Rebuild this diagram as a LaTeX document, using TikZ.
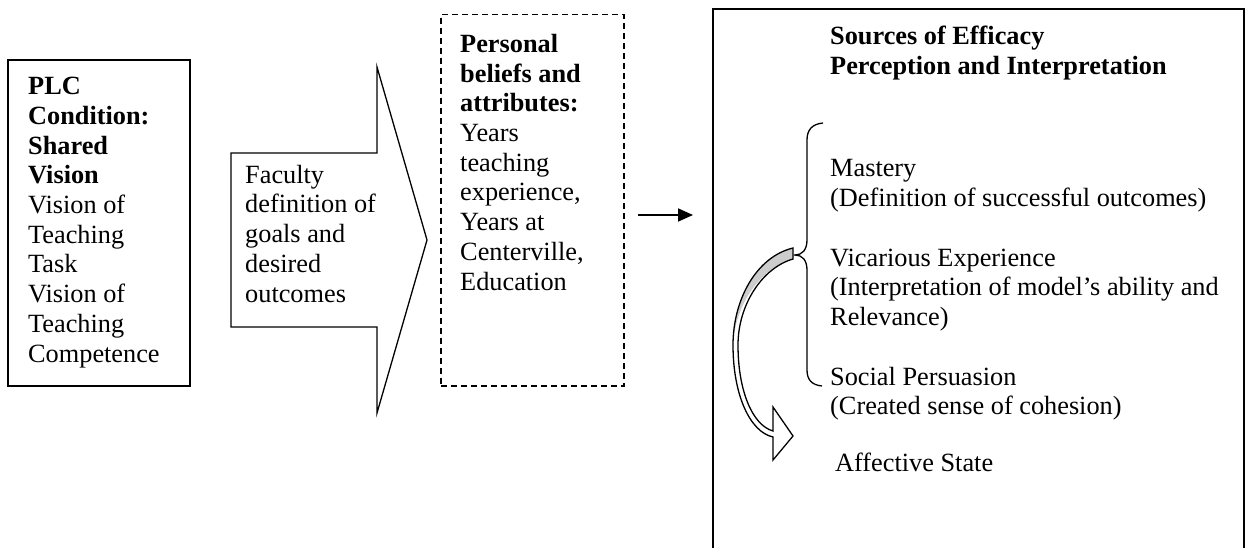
\documentclass[tikz,border=0pt]{standalone}
\usepackage{fontspec}
\setmainfont{Liberation Serif}
\usetikzlibrary{arrows.meta}

\begin{document}
\begin{tikzpicture}[x=1pt,y=-1pt,
  % multi-line texts are placed by the baseline of their last line
  txt/.style={anchor=base west, align=left, inner sep=0pt, font=\fontsize{26.3}{29.7}\selectfont},
  frame/.style={draw=black, line width=1.6pt},
  dashframe/.style={draw=black, line width=1.5pt, dash pattern=on 6pt off 4pt},
  bigarrow/.style={draw=black, line width=1.3pt, line join=miter},
  conn/.style={draw=black, line width=1.8pt, -{Triangle[length=15pt,width=13pt]}},
  brace/.style={draw=black, line width=1.3pt},
  ribbon/.style={draw=black, line width=1.3pt, line join=miter},
]
\useasboundingbox (0,0) rectangle (1246,548);

% PLC condition box
\node[frame, anchor=north west, minimum width=182pt, minimum height=326pt, inner sep=0pt] (plcbox) at (7,59) {};
\node[txt] (plc) at (28,362) {\textbf{PLC}\\\textbf{Condition:}\\\textbf{Shared}\\\textbf{Vision}\\Vision of\\Teaching\\Task\\Vision of\\Teaching\\Competence};

% block arrow with faculty goals
\draw[bigarrow] (231,153) -- (377,153) -- (377,67) -- (427,240) -- (377,413) -- (377,327) -- (231,327) -- cycle;
\node[txt] (faculty) at (245,302) {Faculty\\definition of\\goals and\\desired\\outcomes};

% personal beliefs box
\node[dashframe, anchor=north west, minimum width=183pt, minimum height=371pt, inner sep=0pt] (beliefbox) at (440,14) {};
\node[txt] (beliefs) at (460,290) {\textbf{Personal}\\\textbf{beliefs and}\\\textbf{attributes:}\\Years\\teaching\\experience,\\Years at\\Centerville,\\Education};

% connector into the sources box
\coordinate (connstart) at (638,215);
\coordinate (connend) at (693,215);
\draw[conn] (connstart) -- (connend);

% sources box, open at the bottom
\draw[frame] (713,549) -- (713,9) -- (1244,9) -- (1244,549);
\node[txt, font=\bfseries\fontsize{26.3}{29.7}\selectfont] (title) at (830,74.7) {Sources of Efficacy\\Perception and Interpretation};

\node[txt] (mastery) at (830,206.7) {Mastery\\(Definition of successful outcomes)};
\node[txt] (vicarious) at (830,325.4) {Vicarious Experience\\(Interpretation of model’s ability and\\Relevance)};
\node[txt] (social) at (830,414.7) {Social Persuasion\\(Created sense of cohesion)};
\node[txt] (affective) at (835,471) {Affective State};

% curly brace grouping the three sources
\draw[brace] (823,123) .. controls (812,124) and (807,130) .. (807,140) -- (807,240)
  .. controls (807,250) and (802,255) .. (795,255)
  .. controls (802,255) and (807,260) .. (807,270) -- (807,370)
  .. controls (807,380) and (812,385) .. (822,386);

% curved ribbon arrow towards the affective state
\def\ribbonpath{(793,248) .. controls (756,257) and (733,300) .. (733,345)
  .. controls (733,395) and (750,432) .. (773,437) -- (773,460) -- (793,436) -- (773,407) -- (773,431)
  .. controls (752,425) and (738,390) .. (738,345)
  .. controls (738,305) and (762,268) .. (793,259) -- cycle}
\fill[white] \ribbonpath;
\begin{scope}
  \clip \ribbonpath;
  \fill[black!20] (793,248) .. controls (756,257) and (733,300) .. (733,345)
    .. controls (735,305) and (760,268) .. (793,259) -- cycle;
\end{scope}
\draw[ribbon] \ribbonpath;
\end{tikzpicture}
\end{document}
